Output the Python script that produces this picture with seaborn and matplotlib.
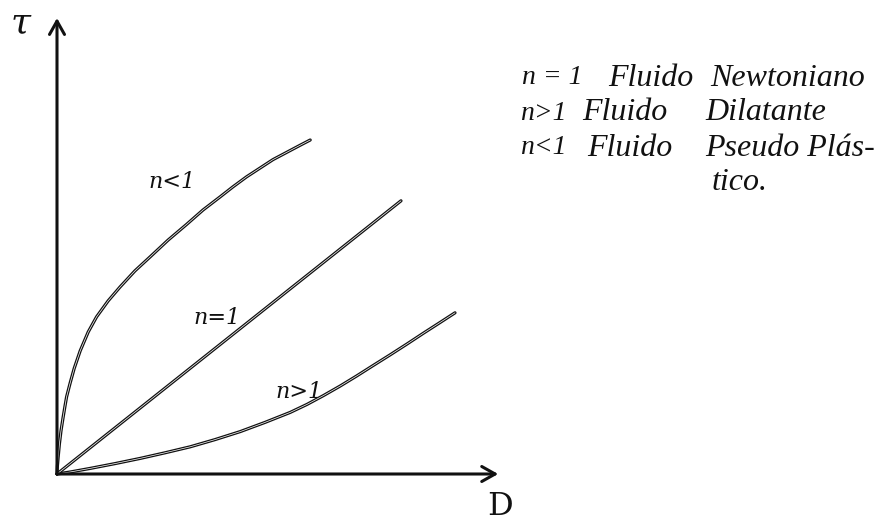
import matplotlib
matplotlib.use("Agg")
import matplotlib.pyplot as plt
import seaborn as sns
import pandas as pd

# Shear stress (tau) against shear rate (D) for the three fluid behaviours
d_pseudo = [0.0, 0.01, 0.03, 0.06, 0.10, 0.15, 0.20, 0.24, 0.33, 0.43, 0.58,
            0.78, 0.99, 1.28, 1.58, 1.95, 2.33, 2.78, 3.24, 3.65, 4.08, 4.40,
            4.74, 5.40, 6.08, 6.33]
tau_pseudo = [0.0, 0.20, 0.43, 0.75, 1.08, 1.40, 1.70, 1.93, 2.28, 2.64, 3.08,
              3.55, 3.93, 4.33, 4.68, 5.08, 5.43, 5.85, 6.24, 6.60, 6.93, 7.18,
              7.43, 7.86, 8.22, 8.35]

d_newton = [0.0, 8.6]
tau_newton = [0.0, 6.83]

d_dilat = [0.0, 0.33, 0.83, 1.45, 2.08, 2.70, 3.33, 3.95, 4.58, 5.20, 5.83,
           6.25, 6.66, 7.08, 7.49, 7.90, 8.33, 8.75, 9.16, 9.58, 9.95]
tau_dilat = [0.0, 0.05, 0.14, 0.26, 0.39, 0.53, 0.68, 0.86, 1.06, 1.29, 1.54,
             1.74, 1.96, 2.20, 2.45, 2.71, 2.98, 3.25, 3.52, 3.79, 4.03]

curve_names = ["n<1", "n=1", "n>1"]
curve_labels = ["n<1", "n=1", "n>1"]
label_pos = [(2.88, 7.3), (4.0, 3.9), (6.05, 2.05)]

axis_x_end = 11.03
axis_y_end = 11.4

legend_rows = [
    ("n = 1", "Fluido", "Newtoniano"),
    ("n>1", "Fluido", "Dilatante"),
    ("n<1", "Fluido", "Pseudo Plás-"),
    ("", "", "tico."),
]

frames = []
for name, d, t in zip(curve_names, [d_pseudo, d_newton, d_dilat],
                      [tau_pseudo, tau_newton, tau_dilat]):
    frames.append(pd.DataFrame({"D": d, "tau": t, "curve": name}))
df = pd.concat(frames, ignore_index=True)

sns.set_theme(style="white")
plt.rcParams["font.family"] = ["DejaVu Serif", "DejaVu Sans"]

fig = plt.figure(figsize=(8.95, 5.26), dpi=100)
ax = fig.add_axes([0, 0, 1, 1])
ax.set_xlim(-1.425, 20.95)
ax.set_ylim(-1.3, 11.85)
ax.axis("off")

# Pen strokes: dark outline with a thin pale core
black = {n: "#111111" for n in curve_names}
white = {n: "white" for n in curve_names}
sns.lineplot(data=df, x="D", y="tau", hue="curve", palette=black, sort=False,
             estimator=None, linewidth=2.3, legend=False, ax=ax)
sns.lineplot(data=df, x="D", y="tau", hue="curve", palette=white, sort=False,
             estimator=None, linewidth=0.5, legend=False, ax=ax)

# Axes drawn as hand-style arrows
arrow_kw = dict(arrowstyle="->,head_length=0.8,head_width=0.45", color="#111111",
                lw=2.2, shrinkA=0, shrinkB=0)
ax.annotate("", xy=(0, axis_y_end), xytext=(0, 0), arrowprops=arrow_kw)
ax.annotate("", xy=(axis_x_end, 0), xytext=(0, 0), arrowprops=arrow_kw)

ax.text(-0.9, 11.3, "τ", fontsize=26, style="italic", ha="center", va="center",
        color="#111111")
ax.text(11.08, -0.82, "D", fontsize=23, ha="center", va="center", color="#111111",
        family="DejaVu Serif")

for lab, (x, y) in zip(curve_labels, label_pos):
    ax.text(x, y, lab, fontsize=16, style="italic", ha="center", va="center",
            color="#111111")

row_y = [78, 113, 148, 182]
col_x = [[522, 608, 710], [520, 582, 705], [520, 587, 705], [0, 0, 712]]
for (a, b, c), y, xs in zip(legend_rows, row_y, col_x):
    for word, x in zip((a, b, c), xs):
        if word:
            size = 20 if word.startswith("n") else 23
            fig.text(x / 895, 1 - y / 526, word, fontsize=size, style="italic",
                     ha="left", va="center", color="#111111",
                     family="Liberation Serif")

fig.savefig("out.png", dpi=100, facecolor="white")
